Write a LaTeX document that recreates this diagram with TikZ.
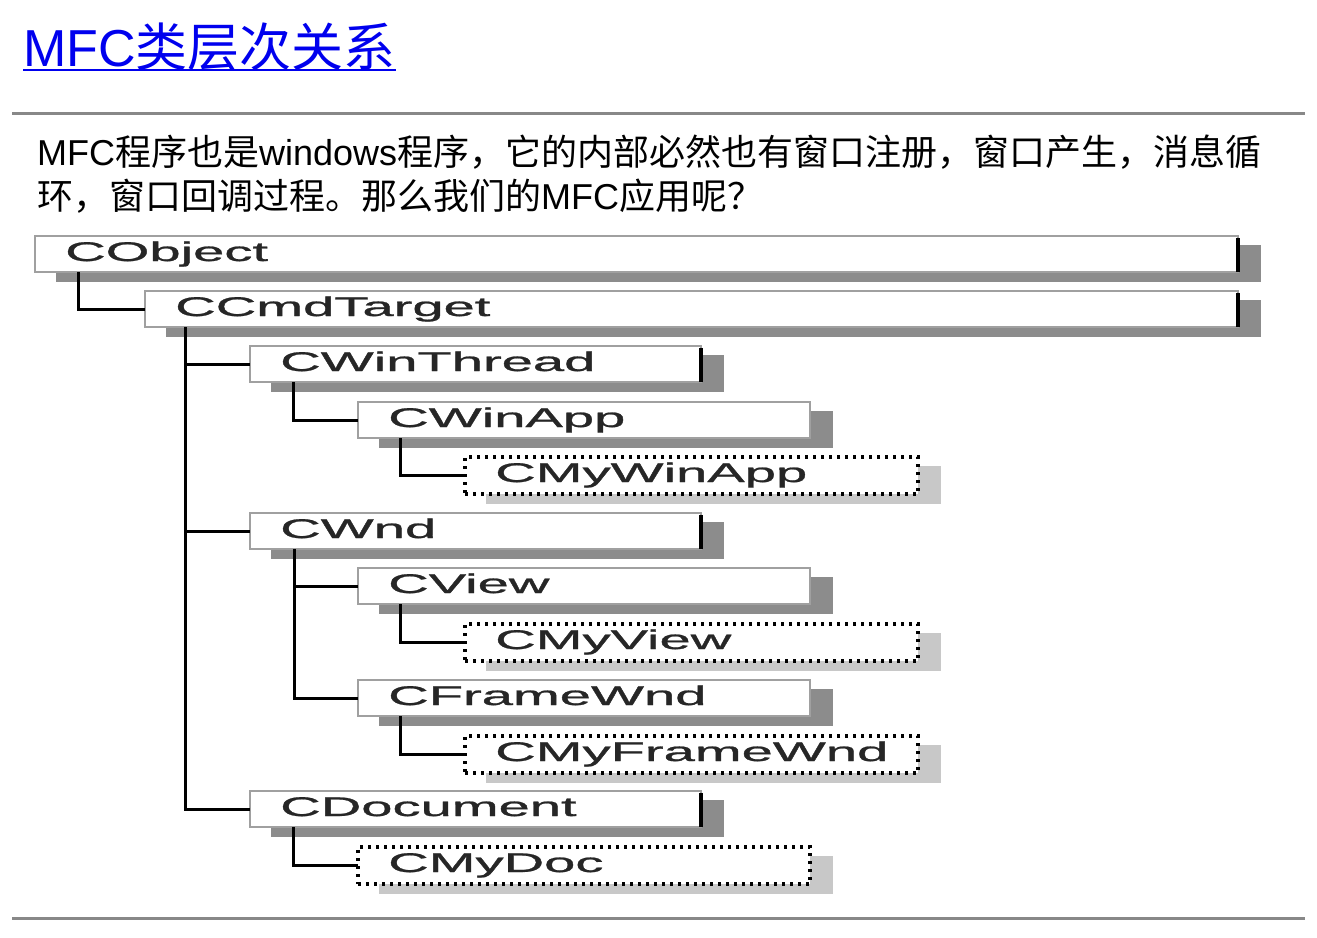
\documentclass[tikz,border=0pt]{standalone}
\usepackage{fontspec}
\usepackage{graphicx}
\setmainfont{Liberation Sans}
\newfontfamily\cjk{Noto Sans CJK SC}
\newfontfamily\lblfont[FakeBold=0.8]{Liberation Sans}
\usetikzlibrary{calc,backgrounds}
\definecolor{titleblue}{RGB}{0,0,238}
\definecolor{rulegray}{RGB}{136,136,136}
\definecolor{shdark}{RGB}{140,140,140}
\definecolor{shlight}{RGB}{200,200,200}
\definecolor{edgegray}{RGB}{160,160,160}
\newcommand\lbl[1]{\scalebox{2.08}[1]{#1}}
\tikzset{
  classbox/.style={rectangle, draw=edgegray, line width=2.2pt, fill=white, minimum height=36pt, inner sep=0pt, outer sep=0pt, anchor=north west},
  userbox/.style={rectangle, draw=black, line width=3.2pt, dash pattern=on 3pt off 5pt, fill=white, minimum height=37pt, inner sep=0pt, outer sep=0pt, anchor=north west},
  lbltext/.style={anchor=base west, inner sep=0pt, font=\lblfont\fontsize{27}{27}\selectfont, text=black!85},
  conn/.style={draw=black, line width=3pt},
  rule/.style={draw=rulegray, line width=3pt},
  para/.style={anchor=base west, inner sep=0pt, font=\fontsize{36}{36}\selectfont, text=black},
  blackedge/.style={draw=black, line width=3.2pt},
}
% #1 name, #2 x1, #3 y1, #4 x2, #5 label, #6 box style, #7 shadow colour
\newcommand\klass[7]{%
  \node[#6, minimum width={(#4-#2)*1pt}] (#1) at (#2,#3) {};
  \node[lbltext] (#1-t) at (#2+30,#3+25) {\lbl{#5}};
  \begin{pgfonlayer}{background}
    \fill[#7] ($(#1.north west)+(21,9)$) rectangle ($(#1.south east)+(23,10)$);
  \end{pgfonlayer}
}
\begin{document}
\begin{tikzpicture}[x=1pt,y=-1pt]
\useasboundingbox (0,0) rectangle (1317,937);
\begin{pgfonlayer}{background}
  \fill[white] (0,0) rectangle (1317,937);
\end{pgfonlayer}

% title
\node[anchor=base west, inner sep=0pt, text=titleblue, font=\fontsize{52}{52}\selectfont] (title) at (23,66) {MFC{\cjk 类层次关系}};
\draw[titleblue, line width=2.7pt] ($(title.base west)+(0,4)$) -- ($(title.base east)+(0,4)$);

% rules
\coordinate (r1a) at (12,113.5);
\coordinate (r1b) at (1305,113.5);
\coordinate (r2a) at (12,918);
\coordinate (r2b) at (1305,918);
\draw[rule] (r1a) -- (r1b);
\draw[rule] (r2a) -- (r2b);

% paragraph
\node[para] (p1) at (37,165) {MFC{\cjk 程序也是}windows{\cjk 程序，它的内部必然也有窗口注册，窗口产生，消息循}};
\node[para] (p2) at (37,209) {{\cjk 环，窗口回调过程。那么我们的}MFC{\cjk 应用呢？}};

% classes
\klass{cobject}{35}{236}{1238}{CObject}{classbox}{shdark}
\klass{ccmd}{145}{291}{1238}{CCmdTarget}{classbox}{shdark}
\klass{cwinthread}{250}{346}{701}{CWinThread}{classbox}{shdark}
\klass{cwinapp}{358}{402}{810}{CWinApp}{classbox}{shdark}
\klass{cmywinapp}{465}{457}{918}{CMyWinApp}{userbox}{shlight}
\klass{cwnd}{250}{513}{701}{CWnd}{classbox}{shdark}
\klass{cview}{358}{568}{810}{CView}{classbox}{shdark}
\klass{cmyview}{465}{624}{918}{CMyView}{userbox}{shlight}
\klass{cframe}{358}{680}{810}{CFrameWnd}{classbox}{shdark}
\klass{cmyframe}{465}{736}{918}{CMyFrameWnd}{userbox}{shlight}
\klass{cdoc}{250}{791}{701}{CDocument}{classbox}{shdark}
\klass{cmydoc}{358}{847}{810}{CMyDoc}{userbox}{shlight}

% black right edges
\foreach \n in {cobject,ccmd,cwinthread,cwnd,cdoc}{
  \draw[blackedge] ($(\n.north east)+(0,2)$) -- (\n.south east);
}

% connectors
\draw[conn] ($(cobject.south west)+(43,0)$) |- (ccmd.west);
\draw[conn] ($(ccmd.south west)+(40,0)$) |- (cwinthread.west);
\draw[conn] ($(ccmd.south west)+(40,0)$) |- (cwnd.west);
\draw[conn] ($(ccmd.south west)+(40,0)$) |- (cdoc.west);
\draw[conn] ($(cwinthread.south west)+(43,0)$) |- (cwinapp.west);
\draw[conn] ($(cwinapp.south west)+(42,0)$) |- (cmywinapp.west);
\draw[conn] ($(cwnd.south west)+(44,0)$) |- (cview.west);
\draw[conn] ($(cwnd.south west)+(44,0)$) |- (cframe.west);
\draw[conn] ($(cview.south west)+(42,0)$) |- (cmyview.west);
\draw[conn] ($(cframe.south west)+(42,0)$) |- (cmyframe.west);
\draw[conn] ($(cdoc.south west)+(43,0)$) |- (cmydoc.west);
\end{tikzpicture}
\end{document}
